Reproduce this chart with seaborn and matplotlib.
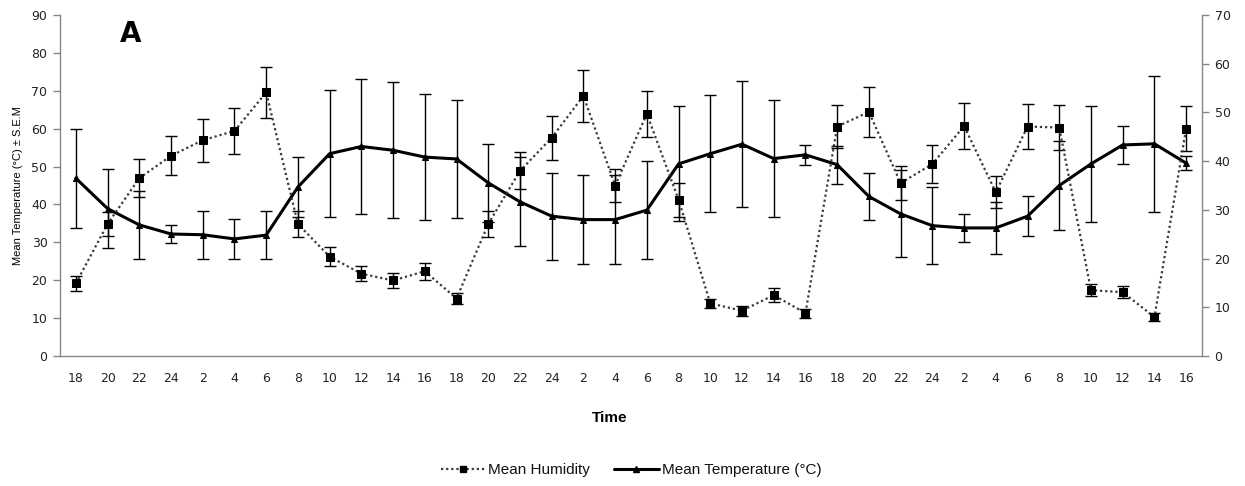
import matplotlib

matplotlib.use("Agg")

import matplotlib.pyplot as plt
import numpy as np
import pandas as pd
import seaborn as sns
from matplotlib.lines import Line2D
from matplotlib.ticker import FixedLocator, NullFormatter

TIME_LABELS = [
    "18", "20", "22", "24", "2", "4", "6", "8", "10", "12", "14", "16",
    "18", "20", "22", "24", "2", "4", "6", "8", "10", "12", "14", "16",
    "18", "20", "22", "24", "2", "4", "6", "8", "10", "12", "14", "16",
]

# mean temperature (left axis, degrees C) and its S.E.M
TEMPERATURE = [
    46.9, 38.9, 34.6, 32.2, 32.0, 30.9, 31.9, 44.6, 53.4, 55.3, 54.3, 52.5,
    52.0, 45.7, 40.7, 36.9, 36.0, 36.0, 38.5, 50.7, 53.4, 55.9, 52.1, 53.1,
    50.5, 42.1, 37.5, 34.4, 33.8, 33.8, 36.9, 45.0, 50.7, 55.7, 56.0, 50.9,
]
TEMPERATURE_SEM = [
    13.0, 10.4, 9.0, 2.5, 6.4, 5.2, 6.4, 7.8, 16.7, 17.9, 18.0, 16.7,
    15.5, 10.3, 11.7, 11.5, 11.7, 11.7, 12.9, 15.2, 15.4, 16.7, 15.5, 2.6,
    5.0, 6.2, 11.5, 10.1, 3.8, 6.8, 5.2, 11.8, 15.4, 5.0, 17.9, 1.8,
]

# mean humidity (right axis) and its S.E.M
HUMIDITY = [
    14.9, 27.1, 36.5, 41.1, 44.3, 46.2, 54.1, 27.1, 20.4, 16.9, 15.5, 17.4,
    11.8, 27.1, 38.0, 44.8, 53.4, 35.0, 49.7, 32.1, 10.8, 9.3, 12.5, 8.8,
    47.1, 50.1, 35.5, 39.4, 47.2, 33.6, 47.1, 46.9, 13.5, 13.1, 8.0, 46.7,
]
HUMIDITY_SEM = [
    1.5, 2.5, 3.9, 4.0, 4.4, 4.7, 5.3, 2.7, 1.9, 1.6, 1.6, 1.7,
    1.1, 2.6, 3.8, 4.5, 5.4, 3.3, 4.8, 3.5, 1.0, 1.0, 1.4, 0.9,
    4.4, 5.1, 3.5, 3.9, 4.7, 3.3, 4.7, 4.7, 1.2, 1.2, 0.8, 4.7,
]

SPINE_COLOR = "#868686"
TEXT_COLOR = "#222222"
TICK_SIZE = 9


def style_axis(ax, side):
    for name, spine in ax.spines.items():
        spine.set_visible(name in (side, "bottom") if side == "left" else name == side)
        spine.set_color(SPINE_COLOR)
        spine.set_linewidth(1.0)
    ax.tick_params(axis="y", which="major", direction="out", length=5, width=1,
                   color=SPINE_COLOR, labelsize=TICK_SIZE, labelcolor=TEXT_COLOR, pad=4)


def main() -> None:
    sns.set_theme(style="white")
    plt.rcParams["font.family"] = ["DejaVu Sans"]
    plt.rcParams["text.color"] = "black"

    df = pd.DataFrame(
        {
            "position": np.arange(len(TIME_LABELS)),
            "temperature": TEMPERATURE,
            "temperature_sem": TEMPERATURE_SEM,
            "humidity": HUMIDITY,
            "humidity_sem": HUMIDITY_SEM,
        }
    )

    fig = plt.figure(figsize=(12.45, 4.86), dpi=100)
    ax = fig.add_axes([60 / 1245, 130 / 486, 1142 / 1245, 341 / 486])
    ax2 = ax.twinx()

    # temperature on the left axis
    ax.errorbar(df["position"], df["temperature"], yerr=df["temperature_sem"],
                fmt="none", ecolor="black", elinewidth=1.0, capsize=4.5, capthick=1.0, zorder=2)
    sns.lineplot(data=df, x="position", y="temperature", ax=ax, color="black",
                 linewidth=2.2, marker="^", markersize=5, markeredgecolor="black", zorder=3)

    # humidity on the right axis
    ax2.errorbar(df["position"], df["humidity"], yerr=df["humidity_sem"],
                 fmt="none", ecolor="black", elinewidth=1.0, capsize=4.5, capthick=1.0, zorder=2)
    sns.lineplot(data=df, x="position", y="humidity", ax=ax2, color="#3a3a3a",
                 linewidth=1.6, linestyle=(0, (1, 1.3)), marker="s", markersize=5.5,
                 markerfacecolor="black", markeredgecolor="black", zorder=3)

    ax.set_xlim(-0.5, len(TIME_LABELS) - 0.5)
    ax.set_ylim(0, 90)
    ax.set_yticks(np.arange(0, 91, 10))
    ax2.set_ylim(0, 70)
    ax2.set_yticks(np.arange(0, 71, 10))

    # tick marks between categories, labels at the categories
    ax.xaxis.set_major_locator(FixedLocator(np.arange(-0.5, len(TIME_LABELS), 1.0)))
    ax.xaxis.set_major_formatter(NullFormatter())
    ax.xaxis.set_minor_locator(FixedLocator(df["position"]))
    ax.set_xticklabels(TIME_LABELS, minor=True)
    ax.tick_params(axis="x", which="major", direction="out", length=5, width=1, color=SPINE_COLOR)
    ax.tick_params(axis="x", which="minor", length=0, pad=11.5, labelsize=TICK_SIZE,
                   labelcolor=TEXT_COLOR)

    style_axis(ax, "left")
    style_axis(ax2, "right")
    ax.set_xlabel("")
    ax.set_ylabel("")
    ax2.set_ylabel("")

    fig.text(18 / 1245, 0.618, "Mean Temperature (°C) ± S.E.M", rotation=90,
             ha="center", va="center", fontsize=8, family=["Liberation Sans"], color="black")
    fig.text(610 / 1245, 1 - 418 / 486, "Time", ha="center", va="center",
             fontsize=11, fontweight="bold", family=["Liberation Sans"], color="black")
    fig.text(131 / 1245, 1 - 34 / 486, "A", ha="center", va="center",
             fontsize=20, fontweight="bold", family=["DejaVu Sans"], color="black")

    handles = [
        Line2D([], [], color="#3a3a3a", linewidth=1.6, linestyle=(0, (1, 1.3)),
               marker="s", markersize=5, markerfacecolor="black", markeredgecolor="black"),
        Line2D([], [], color="black", linewidth=2.2, marker="^", markersize=4.5),
    ]
    legend = fig.legend(handles, ["Mean Humidity", "Mean Temperature (°C)"], loc="center",
                        bbox_to_anchor=(631 / 1245, 1 - 470 / 486), ncol=2, frameon=False,
                        prop={"family": "Liberation Sans", "size": 11}, handlelength=2.9,
                        columnspacing=1.6, handletextpad=0.2)
    for text in legend.get_texts():
        text.set_color("#111111")

    fig.savefig("out.png", dpi=100)
    plt.close(fig)


if __name__ == "__main__":
    main()
